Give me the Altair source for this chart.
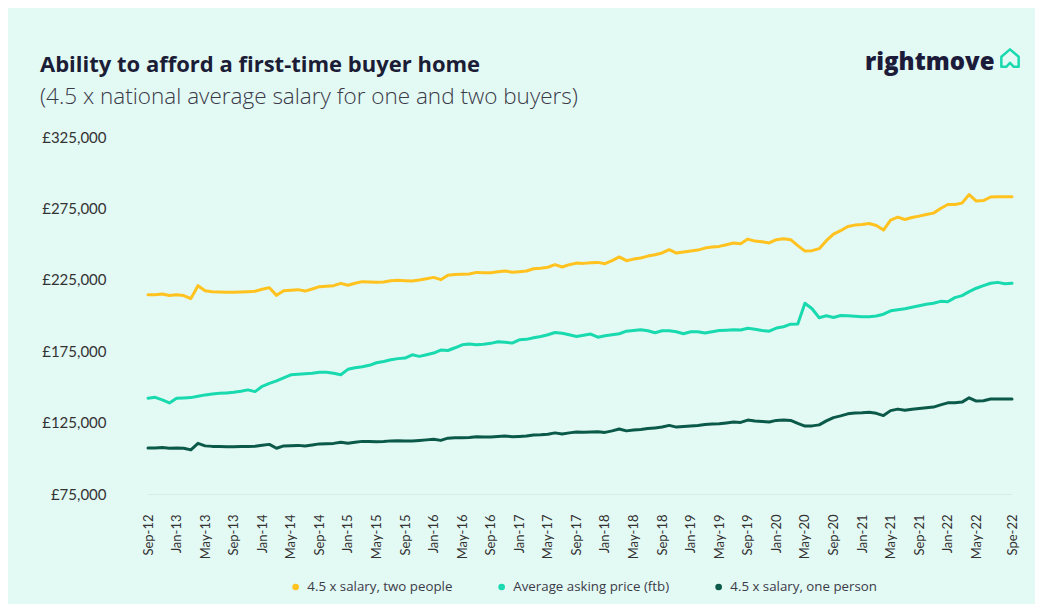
import json
import altair as alt
import pandas as pd

series_names = ["4.5 x salary, two people", "Average asking price (ftb)", "4.5 x salary, one person"]
series_colors = ["#FFC21E", "#19D9AE", "#0B5A49"]

tick_positions = [0, 4, 8, 12, 16, 20, 24, 28, 32, 36, 40, 44, 48, 52, 56, 60, 64, 68, 72, 76,
                  80, 84, 88, 92, 96, 100, 104, 108, 112, 116, 121]
tick_labels = ["Sep-12", "Jan-13", "May-13", "Sep-13", "Jan-14", "May-14", "Sep-14", "Jan-15",
               "May-15", "Sep-15", "Jan-16", "May-16", "Sep-16", "Jan-17", "May-17", "Sep-17",
               "Jan-18", "May-18", "Sep-18", "Jan-19", "May-19", "Sep-19", "Jan-20", "May-20",
               "Sep-20", "Jan-21", "May-21", "Sep-21", "Jan-22", "May-22", "Spe-22"]
y_ticks = [75000, 125000, 175000, 225000, 275000, 325000]

two_people = [
    214500, 214500, 215000, 214000, 214500, 214000, 211800, 220900, 217400, 216700,
    216500, 216300, 216300, 216500, 216700, 217000, 218400, 219500, 214100, 217400,
    217700, 218100, 217100, 218600, 220200, 220500, 220900, 222500, 221200, 222600,
    223700, 223500, 223300, 223500, 224400, 224600, 224400, 224200, 224900, 225800,
    226700, 225100, 228200, 228700, 228900, 229100, 230200, 230000, 230000, 230700,
    231200, 230300, 230700, 231200, 232700, 233100, 233800, 235600, 234000, 235600,
    236700, 236500, 236900, 237200, 236300, 238400, 241000, 238400, 239500, 240300,
    241600, 242600, 243800, 246100, 243700, 244400, 245200, 245800, 247200, 247900,
    248400, 249600, 250800, 250300, 253500, 252100, 251700, 250800, 253100, 253800,
    253100, 248900, 245100, 245400, 246800, 252400, 257000, 259400, 262300, 263300,
    263700, 264400, 263000, 259800, 266800, 268900, 267200, 268600, 269600, 270700,
    271700, 274900, 277700, 277700, 278700, 284700, 280100, 280500, 283000, 283100,
    283100, 283100]

asking_price = [
    142100, 142700, 140900, 138800, 142000, 142300, 142500, 143400, 144400, 145100,
    145500, 145800, 146200, 146900, 147900, 146700, 150400, 152500, 154200, 156300,
    158500, 158800, 159200, 159500, 160200, 160300, 159500, 158500, 162300, 163400,
    164100, 165100, 166900, 167800, 169000, 169800, 170200, 172500, 171400, 172500,
    173700, 175800, 175500, 177400, 179500, 180000, 179500, 179800, 180500, 181600,
    181200, 180700, 183000, 183300, 184400, 185300, 186500, 188100, 187600, 186500,
    185300, 186200, 187000, 184800, 185800, 186500, 187200, 189000, 189500, 190000,
    189300, 187900, 189300, 189300, 188600, 187200, 188600, 188600, 187700, 188600,
    189500, 189700, 190000, 189800, 191100, 190400, 189500, 189000, 191200, 192100,
    193900, 194000, 208600, 204700, 198400, 199800, 198600, 200000, 199800, 199500,
    199100, 199100, 199600, 200900, 203300, 204000, 204700, 205800, 206800, 207900,
    208600, 209900, 209600, 212500, 213900, 216700, 219100, 220900, 222600, 223200,
    222300, 222500]

one_person = [
    107250, 107250, 107500, 107000, 107250, 107000, 105900, 110450, 108700, 108350,
    108250, 108150, 108150, 108250, 108350, 108500, 109200, 109750, 107050, 108700,
    108850, 109050, 108550, 109300, 110100, 110250, 110450, 111250, 110600, 111300,
    111850, 111750, 111650, 111750, 112200, 112300, 112200, 112100, 112450, 112900,
    113350, 112550, 114100, 114350, 114450, 114550, 115100, 115000, 115000, 115350,
    115600, 115150, 115350, 115600, 116350, 116550, 116900, 117800, 117000, 117800,
    118350, 118250, 118450, 118600, 118150, 119200, 120500, 119200, 119750, 120150,
    120800, 121300, 121900, 123050, 121850, 122200, 122600, 122900, 123600, 123950,
    124200, 124800, 125400, 125150, 126750, 126050, 125850, 125400, 126550, 126900,
    126550, 124450, 122550, 122700, 123400, 126200, 128500, 129700, 131150, 131650,
    131850, 132200, 131500, 129900, 133400, 134450, 133600, 134300, 134800, 135350,
    135850, 137450, 138850, 138850, 139350, 142350, 140050, 140250, 141500, 141550,
    141550, 141550]

rows = []
for name, vals in zip(series_names, [two_people, asking_price, one_person]):
    for i, v in enumerate(vals):
        rows.append({"month": i, "value": v, "series": name})
df = pd.DataFrame(rows)

FONT = "Lato"
HEAD = "Open Sans"
label_expr = "{}[indexof({}, datum.value)]".format(json.dumps(tick_labels), json.dumps(tick_positions))

lines = alt.Chart(df).mark_line(strokeWidth=3, strokeCap="round", strokeJoin="round").encode(
    x=alt.X("month:Q",
            scale=alt.Scale(domain=[0, 121], nice=False, zero=False),
            axis=alt.Axis(values=tick_positions, labelExpr=label_expr, labelAngle=270,
                          labelPadding=20, ticks=False, grid=False, domain=True,
                          domainColor="#d4ebe6", domainWidth=1,
                          labelFont=FONT, labelFontSize=13, labelColor="#333333", title=None)),
    y=alt.Y("value:Q",
            scale=alt.Scale(domain=[75000, 325000], nice=False, zero=False),
            axis=alt.Axis(values=y_ticks, labelExpr="'£' + format(datum.value, ',')",
                          grid=False, domain=False, ticks=False, labelPadding=42,
                          labelFont=FONT, labelFontSize=15, labelColor="#333333", title=None)),
    color=alt.Color("series:N",
                    scale=alt.Scale(domain=series_names, range=series_colors),
                    sort=series_names,
                    legend=alt.Legend(orient="none", legendX=141, legendY=443, direction="horizontal",
                                      title=None, symbolType="circle", symbolSize=10,
                                      symbolStrokeWidth=3.5, labelFont=HEAD, labelFontSize=13.3,
                                      labelColor="#3b3b48", columnPadding=40, labelOffset=5,
                                      padding=0)),
)


def text_layer(txt, x, y, size, weight, color, font):
    return alt.Chart(pd.DataFrame({"t": [txt]})).mark_text(
        align="left", baseline="alphabetic", font=font, fontSize=size,
        fontWeight=weight, color=color
    ).encode(x=alt.value(x), y=alt.value(y), text="t:N")


title = text_layer("Ability to afford a first-time buyer home", -108, -65, 22, "bold", "#1b1c36", HEAD)
subtitle = text_layer("(4.5 x national average salary for one and two buyers)", -108, -33, 22.5, 300, "#3a3a48", HEAD)
logo = text_layer("rightmove", 717, -67, 24, 800, "#1c1b3a", HEAD)

icon = alt.Chart(pd.DataFrame({"t": [0]})).mark_point(
    shape="M-1,1L-1,-0.15L0,-1L1,-0.15L1,1L0.4,1L0,0.55L-0.4,1Z",
    size=300, filled=False, stroke="#19D9AE", strokeWidth=2.5, strokeJoin="round", opacity=1
).encode(x=alt.value(862), y=alt.value(-79))

chart = alt.layer(lines, title, subtitle, logo, icon).properties(
    width=864, height=357,
    padding={"left": 140, "top": 129, "right": 23, "bottom": 110},
    autosize=alt.AutoSizeParams(type="none"),
    background="#e3f9f4",
).configure_view(strokeWidth=0)

chart.save("out.html", embed_options={"renderer": "svg", "actions": False})
